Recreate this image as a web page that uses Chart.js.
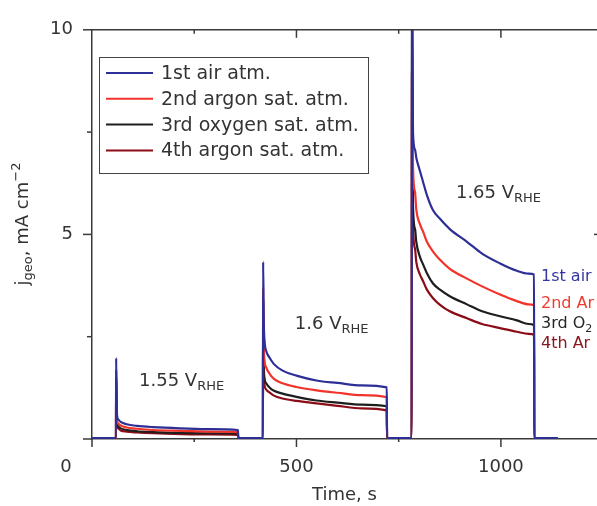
<!DOCTYPE html>
<html>
<head>
<meta charset="utf-8">
<script src="https://cdn.jsdelivr.net/npm/chart.js@4.4.0/dist/chart.umd.min.js"></script>
<style>
  html, body { margin: 0; padding: 0; background: #fff; }
  #wrap { width: 597px; height: 506px; }
</style>
</head>
<body>
<div id="wrap"><canvas id="chart" width="597" height="506"></canvas></div>
<script>
// ─── DATA ────────────────────────────────────────────────────────────────
// time axis (s), shared by the four chronoamperometry runs
const timeS = [
  0, 58.7, 59, 61, 64, 70, 85, 110, 150, 220, 290, 357, 357.5,
  418, 418.5, 420, 422, 426, 434, 445, 466, 500, 549, 600, 660, 721, 721.5,
  782, 782.5, 785, 790, 793, 802, 810, 819, 834, 851, 875, 917, 954, 998, 1039, 1068, 1081, 1081.5, 1139
];
// j_geo, mA cm^-2
const run1Air = [
  0.02, 0.02, 1.98, 0.62, 0.48, 0.42, 0.36, 0.32, 0.29, 0.26, 0.24, 0.22, 0.02,
  0.02, 4.33, 2.90, 2.40, 2.15, 1.99, 1.83, 1.67, 1.55, 1.43, 1.37, 1.31, 1.26, 0.02,
  0.02, 12, 7.48, 7.07, 6.88, 6.55, 6.27, 5.96, 5.59, 5.38, 5.13, 4.82, 4.53, 4.29, 4.11, 4.04, 4.02, 0.02, 0.02
];
const run2Ar = [
  0.02, 0.02, 1.69, 0.50, 0.38, 0.33, 0.28, 0.25, 0.22, 0.20, 0.18, 0.17, 0.02,
  0.02, 3.68, 2.30, 1.91, 1.75, 1.60, 1.47, 1.36, 1.27, 1.19, 1.13, 1.07, 1.02, 0.02,
  0.02, 11, 6.68, 6.03, 5.62, 5.25, 5.06, 4.82, 4.58, 4.38, 4.16, 3.92, 3.73, 3.53, 3.37, 3.29, 3.27, 0.02, 0.02
];
const run3O2 = [
  0.02, 0.02, 1.50, 0.42, 0.31, 0.26, 0.22, 0.19, 0.17, 0.15, 0.14, 0.13, 0.02,
  0.02, 3.37, 1.85, 1.48, 1.36, 1.26, 1.18, 1.11, 1.03, 0.94, 0.89, 0.84, 0.80, 0.02,
  0.02, 10.6, 5.71, 5.13, 4.82, 4.45, 4.26, 4.05, 3.80, 3.65, 3.49, 3.29, 3.12, 3.00, 2.90, 2.81, 2.78, 0.02, 0.02
];
const run4Ar = [
  0.02, 0.02, 1.38, 0.36, 0.26, 0.21, 0.18, 0.16, 0.14, 0.12, 0.11, 0.10, 0.02,
  0.02, 3.37, 1.65, 1.31, 1.21, 1.14, 1.06, 0.99, 0.93, 0.87, 0.81, 0.75, 0.70, 0.02,
  0.02, 8.98, 5.23, 4.65, 4.33, 4.02, 3.85, 3.65, 3.44, 3.28, 3.12, 2.95, 2.81, 2.71, 2.62, 2.57, 2.55, 0.02, 0.02
];

const seriesNames = ['1st air atm.', '2nd argon sat. atm.', '3rd oxygen sat. atm.', '4th argon sat. atm.'];
const seriesColors = ['#2e2f96', '#f2332a', '#1e1e1e', '#8c0d17'];
const labelColors = ['#3535a3', '#f03b30', '#262626', '#8a1820'];
const endLabels = [['1st air', ''], ['2nd Ar', ''], ['3rd O', '2'], ['4th Ar', '']];
const endLabelY = [3.87, 3.21, 2.71, 2.22];
const potentials = ['1.55 V', '1.6 V', '1.65 V'];
const potentialPos = [[115, 1.30], [496, 2.70], [890, 5.90]];

const xMajor = [0, 500, 1000];
const xMinor = [250, 750];
const yMajor = [0, 5, 10];
const yMinor = [2.5, 7.5];

const TXT = '#333';
const AXIS = '#3a3a3a';
const FONT = '"DejaVu Sans", Verdana, sans-serif';

function drawRich(ctx, parts, x, y, align) {
  let w = 0;
  parts.forEach(p => { ctx.font = p.size + 'px ' + FONT; w += ctx.measureText(p.t).width; });
  let cx = align === 'center' ? x - w / 2 : x;
  parts.forEach(p => {
    ctx.font = p.size + 'px ' + FONT;
    ctx.fillText(p.t, cx, y + (p.dy || 0));
    cx += ctx.measureText(p.t).width;
  });
}

const decor = {
  id: 'decor',
  afterDraw(chart) {
    const { ctx, chartArea: a, scales: { x, y } } = chart;
    ctx.save();
    ctx.strokeStyle = AXIS;
    ctx.lineWidth = 1.5;
    const seg = (x1, y1, x2, y2) => { ctx.beginPath(); ctx.moveTo(x1, y1); ctx.lineTo(x2, y2); ctx.stroke(); };

    // top frame + ticks
    seg(a.left, a.top, a.right, a.top);
    xMajor.forEach(v => {
      const px = x.getPixelForValue(v);
      seg(px, a.bottom, px, a.bottom + 8);
      if (v > 0) seg(px, a.top, px, a.top + 8);
    });
    xMinor.forEach(v => {
      const px = x.getPixelForValue(v);
      seg(px, a.bottom, px, a.bottom + 3);
      seg(px, a.top, px, a.top + 4);
    });
    yMajor.forEach(v => { const py = y.getPixelForValue(v); seg(a.left - 9, py, a.left, py); });
    yMinor.forEach(v => { const py = y.getPixelForValue(v); seg(a.left - 5, py, a.left, py); });
    seg(a.right - 3, y.getPixelForValue(5), a.right, y.getPixelForValue(5));

    // x tick labels (the 0 sits left of the corner)
    ctx.fillStyle = TXT;
    ctx.textBaseline = 'middle';
    ctx.textAlign = 'center';
    ctx.font = '18px ' + FONT;
    xMajor.forEach(v => {
      ctx.fillText(String(v), x.getPixelForValue(v) + (v === 0 ? -26 : 0), a.bottom + 28);
    });

    // legend box
    ctx.textAlign = 'left';
    ctx.lineWidth = 1;
    ctx.strokeStyle = '#444';
    ctx.strokeRect(99.5, 57.5, 269, 116);
    seriesNames.forEach((n, i) => {
      const ly = 73 + i * 25.8;
      ctx.strokeStyle = seriesColors[i];
      ctx.lineWidth = 2;
      seg(106, ly, 153, ly);
      ctx.fillStyle = TXT;
      ctx.font = '19px ' + FONT;
      ctx.fillText(n, 161, ly + 1);
    });

    // potential annotations
    ctx.textBaseline = 'alphabetic';
    ctx.fillStyle = TXT;
    potentials.forEach((p, i) => {
      const [tv, jv] = potentialPos[i];
      drawRich(ctx, [{ t: p, size: 18 }, { t: 'RHE', size: 13, dy: 4 }],
        x.getPixelForValue(tv), y.getPixelForValue(jv), 'left');
    });

    // labels at the end of the 1.65 V step
    endLabels.forEach((l, i) => {
      ctx.fillStyle = labelColors[i];
      drawRich(ctx, [{ t: l[0], size: 16 }, { t: l[1], size: 11, dy: 4 }],
        x.getPixelForValue(1098), y.getPixelForValue(endLabelY[i]), 'left');
    });

    // y axis title
    ctx.fillStyle = TXT;
    ctx.translate(28, 224);
    ctx.rotate(-Math.PI / 2);
    drawRich(ctx, [
      { t: 'j', size: 18 }, { t: 'geo', size: 13, dy: 4 },
      { t: ', mA cm', size: 18 }, { t: '\u22122', size: 13, dy: -8 }
    ], 0, 0, 'center');
    ctx.restore();
  }
};

const mk = (vals) => timeS.map((t, i) => ({ x: t, y: vals[i] }));

new Chart(document.getElementById('chart'), {
  type: 'line',
  data: {
    datasets: [run1Air, run2Ar, run3O2, run4Ar].map((vals, i) => ({
      label: seriesNames[i],
      data: mk(vals),
      borderColor: seriesColors[i],
      borderWidth: 2.2,
      pointRadius: 0,
      cubicInterpolationMode: 'monotone',
      fill: false
    }))
  },
  options: {
    responsive: false,
    animation: false,
    events: [],
    layout: { padding: { top: 25, right: 0, left: 0, bottom: 0 } },
    plugins: { legend: { display: false }, tooltip: { enabled: false } },
    scales: {
      x: {
        type: 'linear', min: 0, max: 1235,
        afterFit: s => { s.height = 67; s.paddingLeft = 0; s.paddingRight = 0; },
        grid: { display: false, drawTicks: false },
        border: { display: true, color: AXIS, width: 1.5 },
        ticks: { display: false, stepSize: 250 },
        title: { display: true, text: 'Time, s', color: TXT, font: { family: FONT, size: 18 }, padding: { top: -3, bottom: 0 } }
      },
      y: {
        min: 0, max: 10,
        afterFit: s => { s.width = 92; },
        grid: { display: false, drawTicks: false },
        border: { display: true, color: AXIS, width: 1.5 },
        ticks: {
          stepSize: 2.5, autoSkip: false, padding: 19,
          color: TXT, font: { family: FONT, size: 18 },
          callback: v => (v === 5 || v === 10) ? String(v) : ''
        }
      }
    }
  },
  plugins: [decor]
});
</script>
</body>
</html>
